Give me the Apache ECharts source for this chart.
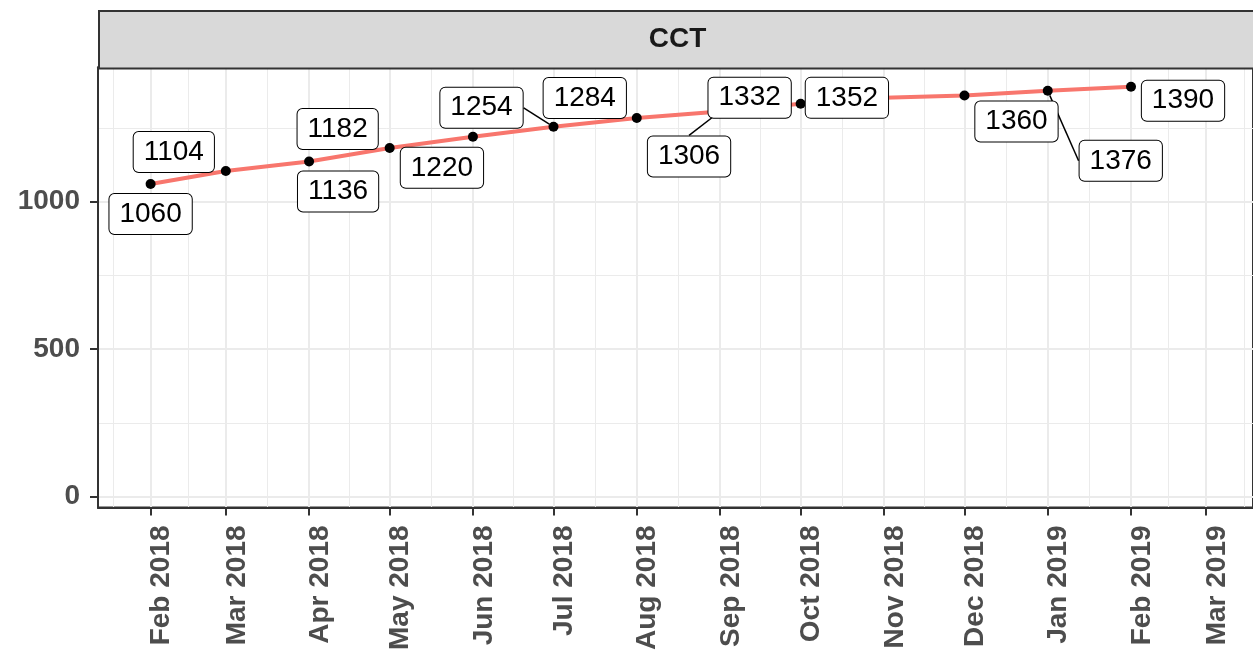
<!DOCTYPE html>
<html>
<head>
<meta charset="utf-8">
<title>CCT</title>
<script src="https://cdn.jsdelivr.net/npm/echarts@6/dist/echarts.min.js"></script>
<style>
  html, body { margin: 0; padding: 0; background: #fff; }
  #chartCCT { width: 1253px; height: 653px; }
</style>
</head>
<body>
<div id="chartCCT"></div>
<script>
// data
var months = ['2018-02-01', '2018-03-01', '2018-04-01', '2018-05-01', '2018-06-01', '2018-07-01', '2018-08-01',
              '2018-09-01', '2018-10-01', '2018-11-01', '2018-12-01', '2019-01-01', '2019-02-01'];
var cctValues = [1060, 1104, 1136, 1182, 1220, 1254, 1284, 1306, 1332, 1352, 1360, 1376, 1390];
var tickMonths = ['2018-02-01', '2018-03-01', '2018-04-01', '2018-05-01', '2018-06-01', '2018-07-01', '2018-08-01',
                  '2018-09-01', '2018-10-01', '2018-11-01', '2018-12-01', '2019-01-01', '2019-02-01', '2019-03-01'];
var yTicks = [0, 500, 1000];
var yMinorTicks = [250, 750, 1250];

// where the repelled label boxes sit, relative to their point (px)
var labelShift = [[0, 30], [-52, -19], [29, 30], [-52, -19], [-31, 31], [-72, -19], [-52, -20],
                  [-31, 45], [-51, -6], [-37, 0], [52, 26], [73, 70], [52, 14]];
var withSegment = [5, 7, 11];

var monthNames = ['Jan', 'Feb', 'Mar', 'Apr', 'May', 'Jun', 'Jul', 'Aug', 'Sep', 'Oct', 'Nov', 'Dec'];
var FONT = 'Liberation Sans, Arial, Helvetica, sans-serif';

function toTime(s) {
  var p = s.split('-');
  return Date.UTC(+p[0], +p[1] - 1, +p[2]);
}

drawChart();

function drawChart() {
  var myChart = echarts.init(document.getElementById('chartCCT'));

  var majorX = tickMonths.map(toTime);
  // minor grid: halfway between breaks, plus one step outside each end
  var minorX = [];
  minorX.push(majorX[0] - (majorX[1] - majorX[0]) / 2);
  for (var i = 0; i < majorX.length - 1; i++) {
    minorX.push((majorX[i] + majorX[i + 1]) / 2);
  }
  var n = majorX.length;
  minorX.push(majorX[n - 1] + (majorX[n - 1] - majorX[n - 2]) / 2);

  var xMin = Date.UTC(2018, 0, 12, 10);
  var xMax = Date.UTC(2019, 2, 18, 10);

  var seriesData = [];
  for (var k = 0; k < months.length; k++) {
    var item = { value: [toTime(months[k]), cctValues[k]] };
    if (withSegment.indexOf(k) >= 0) {
      item.labelLine = { show: true, length2: 0, smooth: false, minTurnAngle: 0 };
    }
    seriesData.push(item);
  }

  var option = {
    animation: false,
    backgroundColor: '#ffffff',
    textStyle: { fontFamily: FONT },
    grid: {
      left: 98,
      top: 67.5,
      right: -4,
      bottom: 145.3,
      show: true,
      backgroundColor: '#ffffff',
      borderColor: '#333333',
      borderWidth: 2
    },
    // facet strip
    graphic: [
      {
        type: 'rect',
        left: 98,
        top: 10,
        z: 10,
        shape: { width: 1175, height: 57.5 },
        style: { fill: '#D9D9D9', stroke: '#333333', lineWidth: 2 }
      },
      {
        type: 'text',
        x: 677.5,
        y: 39,
        z: 11,
        style: {
          text: 'CCT',
          fill: '#1A1A1A',
          font: 'bold 28px ' + FONT,
          align: 'center',
          verticalAlign: 'middle'
        }
      }
    ],
    xAxis: [
      {
        type: 'value',
        min: xMin,
        max: xMax,
        axisLine: { show: true, onZero: false, lineStyle: { color: '#333333', width: 2 } },
        axisTick: { show: true, length: 8, customValues: majorX, lineStyle: { color: '#333333', width: 2 } },
        axisLabel: {
          customValues: majorX,
          rotate: 90,
          margin: 18,
          verticalAlign: 'top',   // rotated text sits right of its tick, like ggplot
          lineHeight: 22,
          color: '#4D4D4D',
          fontSize: 28,
          fontWeight: 'bold',
          fontFamily: FONT,
          formatter: function(v) {
            var d = new Date(v);
            return monthNames[d.getUTCMonth()] + ' ' + d.getUTCFullYear();
          }
        },
        splitLine: { show: true, lineStyle: { color: '#EBEBEB', width: 2 } }
      },
      {
        type: 'value',
        min: xMin,
        max: xMax,
        position: 'bottom',
        axisLine: { show: false, onZero: false },
        axisTick: { show: false, customValues: minorX },
        axisLabel: { show: false, customValues: minorX },
        splitLine: { show: true, lineStyle: { color: '#EBEBEB', width: 1 } }
      }
    ],
    yAxis: [
      {
        type: 'value',
        min: -37,
        max: 1455,
        axisLine: { show: true, onZero: false, lineStyle: { color: '#333333', width: 2 } },
        axisTick: { show: true, length: 8, customValues: yTicks, lineStyle: { color: '#333333', width: 2 } },
        axisLabel: {
          customValues: yTicks,
          margin: 18,
          color: '#4D4D4D',
          fontSize: 28,
          fontWeight: 'bold',
          fontFamily: FONT,
          formatter: function(v) { return String(v); }
        },
        splitLine: { show: true, lineStyle: { color: '#EBEBEB', width: 2 } }
      },
      {
        type: 'value',
        min: -37,
        max: 1455,
        position: 'left',
        axisLine: { show: false, onZero: false },
        axisTick: { show: false, customValues: yMinorTicks },
        axisLabel: { show: false, customValues: yMinorTicks },
        splitLine: { show: true, lineStyle: { color: '#EBEBEB', width: 1 } }
      }
    ],
    series: [
      {
        name: 'CCT',
        type: 'line',
        xAxisIndex: 0,
        yAxisIndex: 0,
        data: seriesData,
        symbol: 'circle',
        symbolSize: 10,
        showAllSymbol: true,
        lineStyle: { color: '#F8766D', width: 4 },
        itemStyle: { color: '#000000' },
        label: {
          show: true,
          position: 'inside',
          formatter: function(p) { return String(p.value[1]); },
          color: '#000000',
          fontSize: 28,
          fontFamily: FONT,
          lineHeight: 28,
          backgroundColor: '#ffffff',
          borderColor: '#000000',
          borderWidth: 1,
          borderRadius: 5,
          padding: [6, 10]
        },
        labelLine: {
          show: false,
          length2: 0,
          smooth: false,
          minTurnAngle: 0,
          lineStyle: { color: '#000000', width: 1.5 }
        },
        labelLayout: function(params) {
          var s = labelShift[params.dataIndex];
          return { dx: s[0], dy: s[1] };
        },
        emphasis: { disabled: true }
      }
    ]
  };

  myChart.setOption(option);
}
</script>
</body>
</html>
